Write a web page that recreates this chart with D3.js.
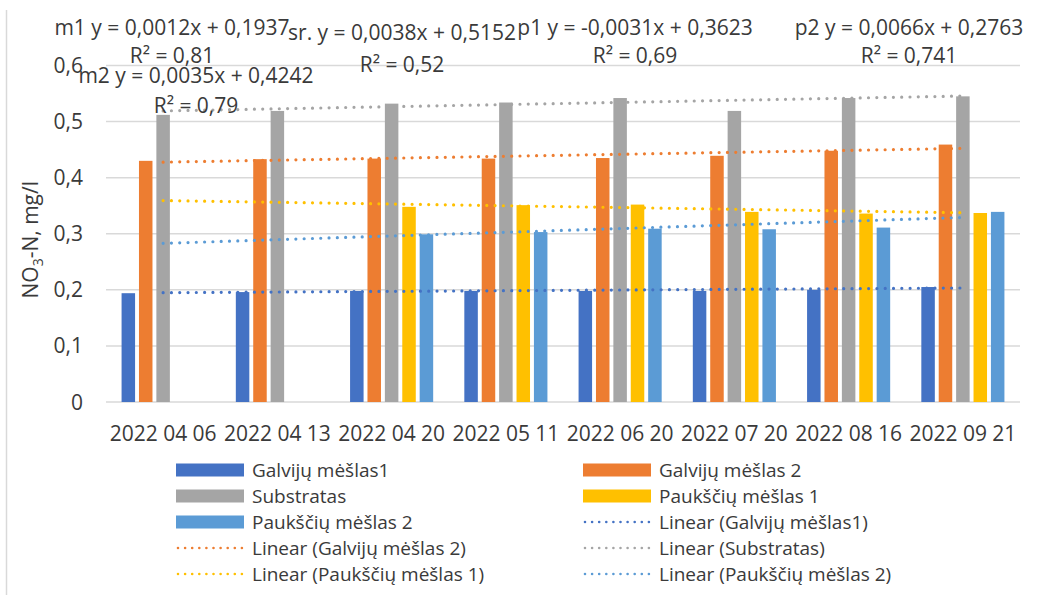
<!DOCTYPE html>
<html>
<head>
<meta charset="utf-8">
<script src="https://cdn.jsdelivr.net/npm/d3@7"></script>
<style>
  body { margin: 0; background: #fff; }
  text { font-family: "Open Sans", sans-serif; fill: #3a3a3a; }
</style>
</head>
<body>
<div id="chart"></div>
<script>
// categories and values
const dates = ["2022 04 06", "2022 04 13", "2022 04 20", "2022 05 11", "2022 06 20", "2022 07 20", "2022 08 16", "2022 09 21"];
const galvijai1 = [0.194, 0.196, 0.198, 0.198, 0.198, 0.198, 0.200, 0.205];
const galvijai2 = [0.430, 0.433, 0.434, 0.434, 0.435, 0.439, 0.448, 0.459];
const substratas = [0.512, 0.519, 0.532, 0.534, 0.542, 0.519, 0.542, 0.545];
const pauksciai1 = [null, null, 0.348, 0.351, 0.352, 0.339, 0.336, 0.337];
const pauksciai2 = [null, null, 0.299, 0.303, 0.309, 0.308, 0.311, 0.339];

const seriesNames = ["Galvijų mėšlas1", "Galvijų mėšlas 2", "Substratas", "Paukščių mėšlas 1", "Paukščių mėšlas 2"];
const seriesColors = ["#4472C4", "#ED7D31", "#A5A5A5", "#FFC000", "#5B9BD5"];
const seriesValues = [galvijai1, galvijai2, substratas, pauksciai1, pauksciai2];

// trendline equations (slope, intercept) shown on the chart
const trendSlope = [0.0012, 0.0035, 0.0038, -0.0031, 0.0066];
const trendIntercept = [0.1937, 0.4242, 0.5152, 0.3623, 0.2763];
const trendEq = ["m1 y = 0,0012x + 0,1937", "m2  y = 0,0035x + 0,4242", "sr. y = 0,0038x + 0,5152", "p1 y = -0,0031x + 0,3623", "p2 y = 0,0066x + 0,2763"];
const trendR2 = ["R² = 0,81", "R² = 0,79", "R² = 0,52", "R² = 0,69", "R² = 0,741"];

const yTicks = [0, 0.1, 0.2, 0.3, 0.4, 0.5, 0.6];

const width = 1043, height = 595;
const svg = d3.select("#chart").append("svg")
    .attr("width", width)
    .attr("height", height);

svg.append("rect").attr("width", width).attr("height", height).attr("fill", "#fff");

// chart border, only the left edge shows
svg.append("line")
    .attr("x1", 6.5).attr("x2", 6.5)
    .attr("y1", 10).attr("y2", height)
    .attr("stroke", "#d9d9d9").attr("stroke-width", 1.5);

const plot = {left: 106, right: 1020, top: 65.5, bottom: 402};

const y = d3.scaleLinear().domain([0, 0.6]).range([plot.bottom, plot.top]);

const x0 = d3.scaleBand()
    .domain(dates)
    .range([plot.left, plot.right])
    .paddingInner(0.2385)
    .paddingOuter(0.2385 / 2);

const x1 = d3.scaleBand()
    .domain(d3.range(seriesNames.length))
    .range([0, x0.bandwidth()])
    .paddingInner(0.224)
    .paddingOuter(0.112);

// gridlines
svg.append("g")
    .selectAll("line")
    .data(yTicks)
    .join("line")
    .attr("x1", plot.left).attr("x2", plot.right)
    .attr("y1", d => y(d)).attr("y2", d => y(d))
    .attr("stroke", "#d9d9d9")
    .attr("stroke-width", 1.5);

// y tick labels
svg.append("g")
    .selectAll("text")
    .data(yTicks)
    .join("text")
    .attr("x", 83)
    .attr("y", d => y(d))
    .attr("dy", "0.36em")
    .attr("text-anchor", "end")
    .style("font-size", "21px")
    .text(d => d === 0 ? "0" : d3.format(".1f")(d).replace(".", ","));

// y axis title with subscript
const yTitle = svg.append("text")
    .attr("transform", `translate(38, ${(plot.top + plot.bottom) / 2 + 6}) rotate(-90)`)
    .attr("text-anchor", "middle")
    .style("font-size", "21px");
yTitle.append("tspan").text("NO");
yTitle.append("tspan").attr("dy", 5).style("font-size", "14px").text("3");
yTitle.append("tspan").attr("dy", -5).text("-N, mg/l");

// x tick labels
svg.append("g")
    .selectAll("text")
    .data(dates)
    .join("text")
    .attr("x", d => x0(d) + x0.bandwidth() / 2)
    .attr("y", 441)
    .attr("text-anchor", "middle")
    .style("font-size", "21px")
    .text(d => d);

// bars
const barData = [];
seriesValues.forEach((vals, si) => {
    vals.forEach((v, i) => {
        if (v !== null) barData.push({s: si, date: dates[i], value: v});
    });
});

svg.append("g")
    .selectAll("rect")
    .data(barData)
    .join("rect")
    .attr("x", d => x0(d.date) + x1(d.s))
    .attr("y", d => y(d.value))
    .attr("width", x1.bandwidth())
    .attr("height", d => y(0) - y(d.value))
    .attr("fill", d => seriesColors[d.s]);

// trendlines, from first to last category centre
const cx = i => x0(dates[i]) + x0.bandwidth() / 2;
const trendLine = d3.line()
    .x(d => cx(d.i))
    .y(d => y(d.v));

seriesNames.forEach((name, si) => {
    const ends = [0, dates.length - 1].map(i => ({i: i, v: trendSlope[si] * (i + 1) + trendIntercept[si]}));
    svg.append("path")
        .datum(ends)
        .attr("d", trendLine)
        .attr("fill", "none")
        .attr("stroke", seriesColors[si])
        .attr("stroke-width", 3.2)
        .attr("stroke-linecap", "round")
        .attr("stroke-dasharray", "0 8.3");
});

// trendline equation labels
const eqPos = [
    {x: 172, y1: 35, y2: 63},   // m1
    {x: 196, y1: 83, y2: 113},  // m2
    {x: 402, y1: 40, y2: 72},   // sr
    {x: 635, y1: 35, y2: 63},   // p1
    {x: 909, y1: 35, y2: 63}    // p2
];
const eqG = svg.append("g").style("font-size", "21px");
eqPos.forEach((p, i) => {
    eqG.append("text").attr("x", p.x).attr("y", p.y1).attr("text-anchor", "middle").text(trendEq[i]);
    eqG.append("text").attr("x", p.x).attr("y", p.y2).attr("text-anchor", "middle").text(trendR2[i]);
});

// legend
const legendItems = [];
seriesNames.forEach((n, i) => legendItems.push({label: n, color: seriesColors[i], type: "bar"}));
seriesNames.forEach((n, i) => legendItems.push({label: "Linear (" + n + ")", color: seriesColors[i], type: "line"}));

const legend = svg.append("g").style("font-size", "19px");
legendItems.forEach((d, k) => {
    const col = k % 2, row = Math.floor(k / 2);
    const lx = col === 0 ? 176 : 583;
    const ly = 470 + row * 26;
    if (d.type === "bar") {
        legend.append("rect")
            .attr("x", lx).attr("y", ly - 6.5)
            .attr("width", 68).attr("height", 13)
            .attr("fill", d.color);
    } else {
        legend.append("line")
            .attr("x1", lx + 2).attr("x2", lx + 66)
            .attr("y1", ly).attr("y2", ly)
            .attr("stroke", d.color)
            .attr("stroke-width", 2.6)
            .attr("stroke-linecap", "round")
            .attr("stroke-dasharray", "0 7.1");
    }
    legend.append("text")
        .attr("x", lx + 76)
        .attr("y", ly)
        .attr("dy", "0.35em")
        .text(d.label);
});
</script>
</body>
</html>
